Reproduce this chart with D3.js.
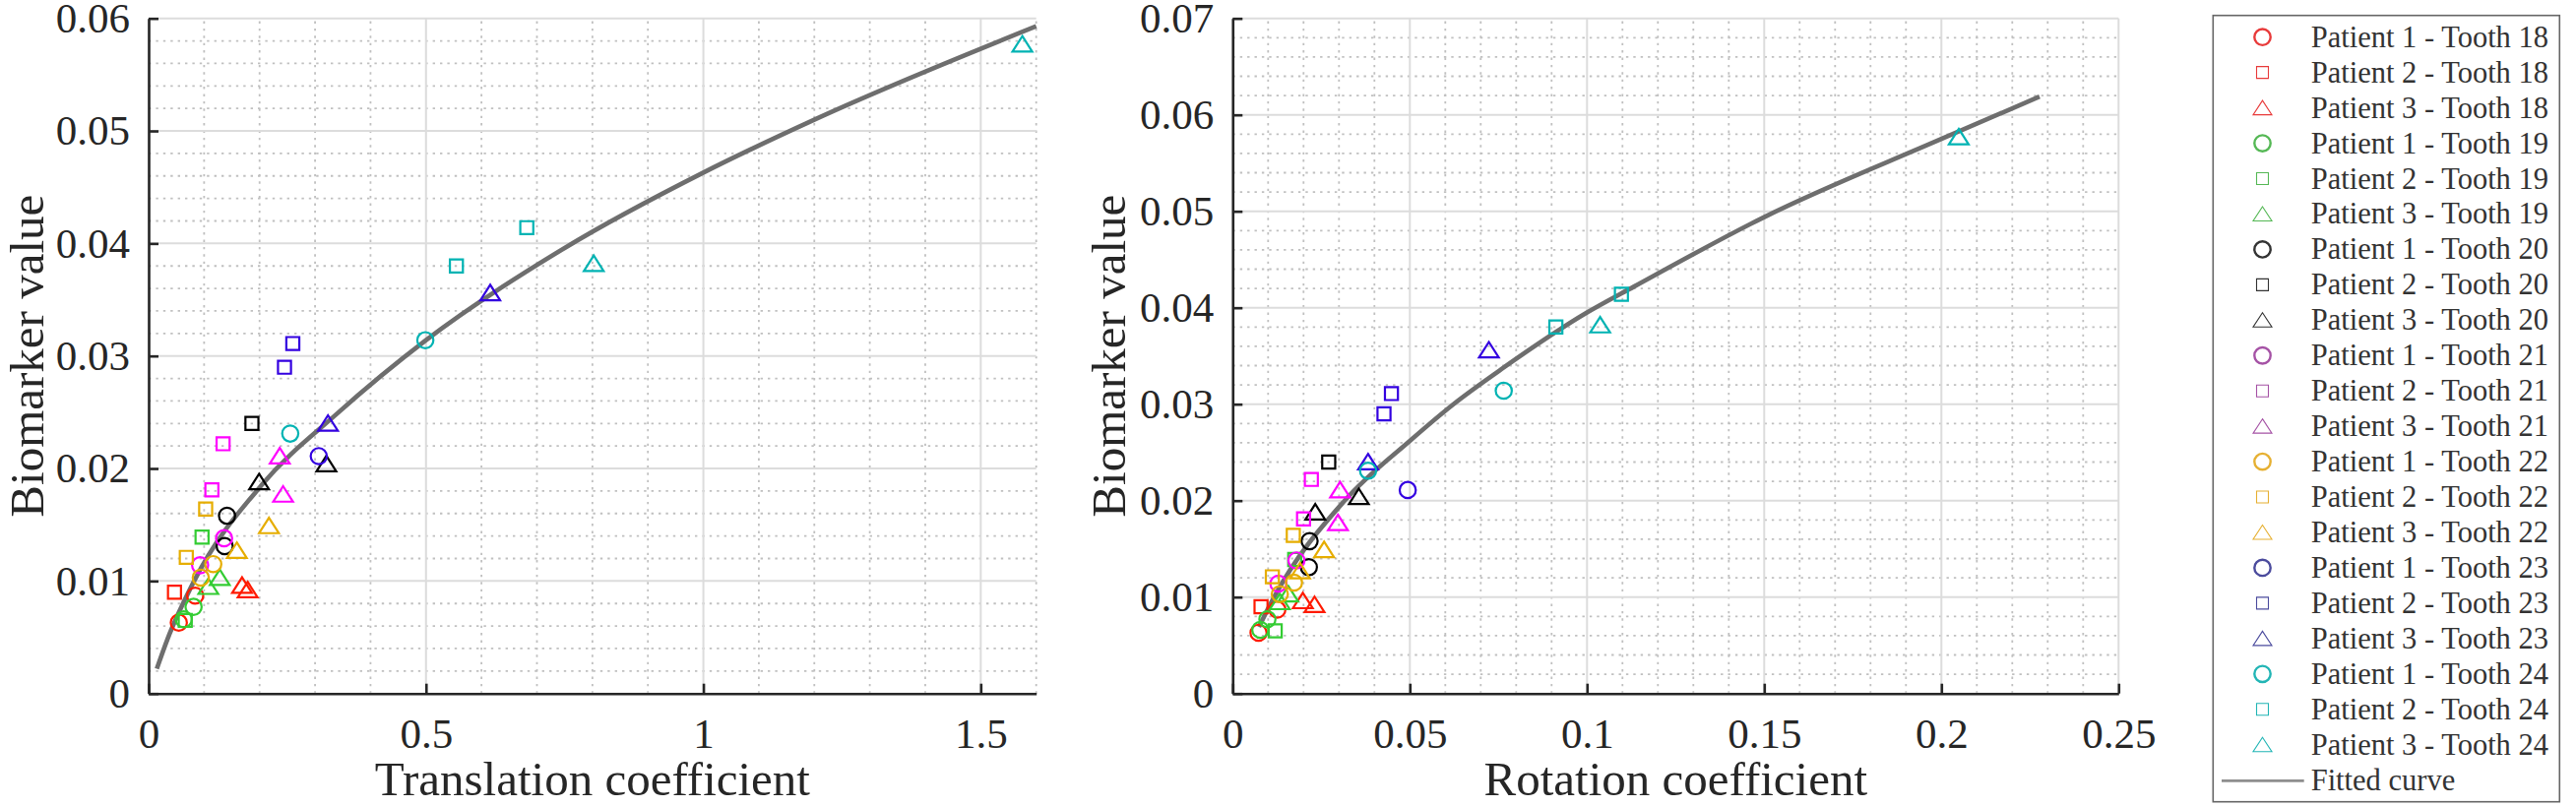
<!DOCTYPE html>
<html>
<head>
<meta charset="utf-8">
<script src="https://cdn.jsdelivr.net/npm/d3@7"></script>
<style>
  body { margin: 0; background: #fff; }
  svg { display: block; font-family: "Liberation Serif", "Times New Roman", serif; }
  svg text { font-family: "Liberation Serif", "Times New Roman", serif; }
</style>
</head>
<body>
<svg width="2617" height="820"></svg>
<script>
// series: 3 patients x 7 teeth
const seriesNames = [
  "Patient 1 - Tooth 18", "Patient 2 - Tooth 18", "Patient 3 - Tooth 18",
  "Patient 1 - Tooth 19", "Patient 2 - Tooth 19", "Patient 3 - Tooth 19",
  "Patient 1 - Tooth 20", "Patient 2 - Tooth 20", "Patient 3 - Tooth 20",
  "Patient 1 - Tooth 21", "Patient 2 - Tooth 21", "Patient 3 - Tooth 21",
  "Patient 1 - Tooth 22", "Patient 2 - Tooth 22", "Patient 3 - Tooth 22",
  "Patient 1 - Tooth 23", "Patient 2 - Tooth 23", "Patient 3 - Tooth 23",
  "Patient 1 - Tooth 24", "Patient 2 - Tooth 24", "Patient 3 - Tooth 24"
];
const shapes = ["circle", "square", "triangle"];
const toothColors  = ["#ff1a00", "#33cc33", "#000000", "#ff00ff", "#e6ad00", "#3300e0", "#00b3b3"];
const legendColors = ["#e83a3a", "#55b855", "#333333", "#a552a5", "#e6b032", "#4b4b9d", "#22b5b5"];

// biomarker value (shared by both panels), one array per series
const biomarker = [
  [0.0087, 0.0063], [0.0090], [0.0096, 0.0092],
  [0.0077, 0.0066], [0.0139, 0.0065], [0.0103, 0.0095],
  [0.0158, 0.0131], [0.0240], [0.0188, 0.0204],
  [0.0138, 0.0114], [0.0222, 0.0181], [0.0211, 0.0177],
  [0.0115, 0.0103], [0.0164, 0.0121], [0.0149, 0.0127],
  [0.0211], [0.0290, 0.0311], [0.0240, 0.0356],
  [0.0231, 0.0314], [0.0380, 0.0414], [0.0382, 0.0577]
];
const translation = [
  [0.0839, 0.0544], [0.0466], [0.1684, 0.1785],
  [0.0810, 0.0633], [0.0963, 0.0660], [0.1282, 0.1076],
  [0.1413, 0.1371], [0.1862], [0.1991, 0.3204],
  [0.1360, 0.0928], [0.1342, 0.1140], [0.2364, 0.2424],
  [0.1165, 0.0940], [0.1028, 0.0679], [0.2169, 0.1590],
  [0.3067], [0.2449, 0.2599], [0.3233, 0.6158],
  [0.2553, 0.4988], [0.5548, 0.6817], [0.8024, 1.5750]
];
const rotation = [
  [0.0126, 0.0073], [0.0080], [0.0198, 0.0231],
  [0.0098, 0.0078], [0.0175, 0.0120], [0.0157, 0.0133],
  [0.0217, 0.0215], [0.0271], [0.0233, 0.0356],
  [0.0180, 0.0129], [0.0222, 0.0200], [0.0303, 0.0297],
  [0.0173, 0.0133], [0.0171, 0.0112], [0.0258, 0.0190],
  [0.0494], [0.0427, 0.0448], [0.0382, 0.0723],
  [0.0382, 0.0765], [0.0912, 0.1097], [0.1037, 0.2049]
];

// fitted curves
const transFitX = [0.0147, 0.0337, 0.082, 0.205, 0.338, 0.5, 0.75, 1.0, 1.2, 1.6];
const transFitY = [0.0022, 0.0048, 0.0100, 0.0186, 0.0248, 0.0314, 0.0396, 0.0463, 0.0510, 0.0593];
const rotFitX = [0.0074, 0.0117, 0.0316, 0.05, 0.0623, 0.0765, 0.1, 0.1133, 0.15, 0.2, 0.2277];
const rotFitY = [0.0069, 0.0100, 0.0200, 0.0262, 0.0300, 0.0338, 0.0395, 0.0422, 0.0494, 0.0575, 0.0619];

// tick labels
const transXTicks = ["0", "0.5", "1", "1.5"];
const transYTicks = ["0", "0.01", "0.02", "0.03", "0.04", "0.05", "0.06"];
const rotXTicks = ["0", "0.05", "0.1", "0.15", "0.2", "0.25"];
const rotYTicks = ["0", "0.01", "0.02", "0.03", "0.04", "0.05", "0.06", "0.07"];

const svg = d3.select("svg");
const axisColor = "#262626";
const plotTop = 18.7, plotBottom = 704.7;

function markerPath(shape, legend) {
  const p = d3.path();
  if (shape === "circle") {
    p.arc(0, 0, 8.2, 0, 2 * Math.PI);
  } else if (shape === "square") {
    const h = legend ? 6 : 6.6;
    p.rect(-h, -h, 2 * h, 2 * h);
  } else if (legend) {
    p.moveTo(0, -7.5);
    p.lineTo(9.5, 7);
    p.lineTo(-9.5, 7);
    p.closePath();
  } else {
    p.moveTo(0, -8.3);
    p.lineTo(10, 7.4);
    p.lineTo(-10, 7.4);
    p.closePath();
  }
  return p.toString();
}

function drawPanel(opt) {
  const x = d3.scaleLinear().domain(opt.xDomain).range([opt.left, opt.right]);
  const y = d3.scaleLinear().domain(opt.yDomain).range([plotBottom, plotTop]);
  const g = svg.append("g");

  const xMajor = opt.xTicks.map(Number);
  const yMajor = opt.yTicks.map(Number);
  const steps = (max, step) => d3.range(0, Math.round(max / step) + 1).map(i => i * step);
  const notMajor = major => v => !major.some(t => Math.abs(t - v) < 1e-9);
  const xMinor = steps(opt.xDomain[1], opt.xMinor).filter(notMajor(xMajor));
  const yMinor = steps(opt.yDomain[1], opt.yMinor).filter(notMajor(yMajor));

  const grid = g.append("g");
  grid.selectAll(".vminor").data(xMinor).enter().append("line")
    .attr("x1", d => x(d)).attr("x2", d => x(d))
    .attr("y1", plotBottom).attr("y2", plotTop)
    .attr("stroke", "#c0c0c0").attr("stroke-width", 1.8).attr("stroke-dasharray", "2.4,5");
  grid.selectAll(".hminor").data(yMinor).enter().append("line")
    .attr("x1", opt.left).attr("x2", opt.right)
    .attr("y1", d => y(d)).attr("y2", d => y(d))
    .attr("stroke", "#c0c0c0").attr("stroke-width", 1.8).attr("stroke-dasharray", "2.4,5");
  grid.selectAll(".vmajor").data(xMajor).enter().append("line")
    .attr("x1", d => x(d)).attr("x2", d => x(d))
    .attr("y1", plotBottom).attr("y2", plotTop)
    .attr("stroke", "#dcdcdc").attr("stroke-width", 2);
  grid.selectAll(".hmajor").data(yMajor).enter().append("line")
    .attr("x1", opt.left).attr("x2", opt.right)
    .attr("y1", d => y(d)).attr("y2", d => y(d))
    .attr("stroke", "#dcdcdc").attr("stroke-width", 2);

  // fitted curve
  const fit = opt.fitX.map((v, i) => [v, opt.fitY[i]]);
  g.append("path")
    .datum(fit)
    .attr("fill", "none")
    .attr("stroke", "#6e6e6e")
    .attr("stroke-width", 4.6)
    .attr("d", d3.line().x(d => x(d[0])).y(d => y(d[1])).curve(d3.curveMonotoneX));

  // markers
  const points = [];
  biomarker.forEach((ys, s) => {
    ys.forEach((v, i) => points.push({s: s, x: opt.xData[s][i], y: v}));
  });
  g.selectAll(".pt").data(points).enter().append("path")
    .attr("d", d => markerPath(shapes[d.s % 3], false))
    .attr("transform", d => `translate(${x(d.x)},${y(d.y)})`)
    .attr("fill", "none")
    .attr("stroke", d => toothColors[Math.floor(d.s / 3)])
    .attr("stroke-width", 2.2);

  // axes
  const xAxis = g.append("g")
    .attr("transform", `translate(0,${plotBottom})`)
    .call(d3.axisBottom(x).tickValues(xMajor).tickFormat((d, i) => opt.xTicks[i])
      .tickSizeInner(-10).tickSizeOuter(0).tickPadding(25));
  const yAxis = g.append("g")
    .attr("transform", `translate(${opt.left},0)`)
    .call(d3.axisLeft(y).tickValues(yMajor).tickFormat((d, i) => opt.yTicks[i])
      .tickSizeInner(-10).tickSizeOuter(0).tickPadding(19));
  [xAxis, yAxis].forEach(a => {
    a.attr("font-family", "Liberation Serif, Times New Roman, serif").attr("font-size", 43);
    a.select(".domain").attr("stroke", axisColor).attr("stroke-width", 2.6);
    a.selectAll(".tick line").attr("stroke", axisColor).attr("stroke-width", 2.6);
    a.selectAll(".tick text").attr("fill", axisColor);
  });

  // axis titles
  g.append("text")
    .attr("x", (opt.left + opt.right) / 2).attr("y", 808)
    .attr("text-anchor", "middle")
    .attr("fill", axisColor)
    .style("font-size", "49px")
    .text(opt.xTitle);
  g.append("text")
    .attr("transform", `translate(${opt.titleX},${(plotTop + plotBottom) / 2}) rotate(-90)`)
    .attr("text-anchor", "middle")
    .attr("fill", axisColor)
    .style("font-size", "49px")
    .text("Biomarker value");
}

drawPanel({
  left: 151, right: 1052.7, titleX: 44,
  xDomain: [0, 1.6], yDomain: [0, 0.06],
  xTicks: transXTicks, yTicks: transYTicks,
  xMinor: 0.1, yMinor: 0.002,
  xData: translation, fitX: transFitX, fitY: transFitY,
  xTitle: "Translation coefficient"
});
drawPanel({
  left: 1252.3, right: 2152.3, titleX: 1143,
  xDomain: [0, 0.25], yDomain: [0, 0.07],
  xTicks: rotXTicks, yTicks: rotYTicks,
  xMinor: 0.01, yMinor: 0.002,
  xData: rotation, fitX: rotFitX, fitY: rotFitY,
  xTitle: "Rotation coefficient"
});

// legend
const legend = svg.append("g");
legend.append("rect")
  .attr("x", 2248.3).attr("y", 15.7)
  .attr("width", 352).attr("height", 799)
  .attr("fill", "#fff").attr("stroke", "#666").attr("stroke-width", 1.6);
const rowY = i => 37.7 + i * 35.95;
const rows = legend.selectAll(".row").data(seriesNames).enter().append("g")
  .attr("transform", (d, i) => `translate(0,${rowY(i)})`);
rows.append("path")
  .attr("d", (d, i) => markerPath(shapes[i % 3], true))
  .attr("transform", "translate(2298.5,0)")
  .attr("fill", "none")
  .attr("stroke", (d, i) => legendColors[Math.floor(i / 3)])
  .attr("stroke-width", (d, i) => i % 3 === 0 ? 2.4 : 1.1);
rows.append("text")
  .attr("x", 2347.7).attr("y", 10)
  .attr("fill", "#333")
  .style("font-size", "30.5px")
  .text(d => d);
const fitRow = legend.append("g").attr("transform", `translate(0,${rowY(20) + 36.7})`);
fitRow.append("line")
  .attr("x1", 2257).attr("x2", 2340.7).attr("y1", 0).attr("y2", 0)
  .attr("stroke", "#8e8e8e").attr("stroke-width", 2.8);
fitRow.append("text")
  .attr("x", 2347.7).attr("y", 10)
  .attr("fill", "#333")
  .style("font-size", "30.5px")
  .text("Fitted curve");
</script>
</body>
</html>
